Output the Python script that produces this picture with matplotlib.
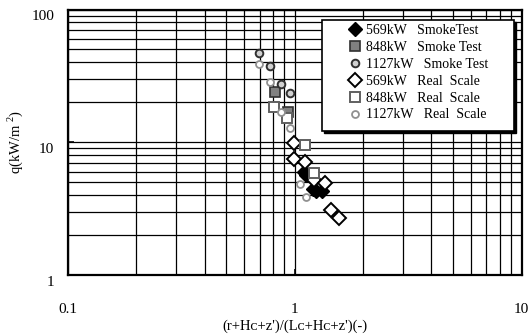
import matplotlib
matplotlib.use("Agg")
import matplotlib.pyplot as plt
import matplotlib.transforms as mtransforms
from matplotlib.patches import Rectangle
from matplotlib.ticker import LogLocator, NullFormatter, FixedLocator, FixedFormatter

plt.rcParams['font.family'] = ['Liberation Serif', 'DejaVu Serif']
plt.rcParams['mathtext.fontset'] = 'custom'
plt.rcParams['mathtext.rm'] = 'Liberation Serif'

# ---- data ----
smoke569_x = [1.098, 1.116, 1.203, 1.244, 1.318]
smoke569_y = [5.97, 5.64, 4.47, 4.29, 4.29]
smoke848_x = [0.820, 0.933]
smoke848_y = [24.0, 16.9]
smoke1127_x = [0.699, 0.780, 0.874, 0.955]
smoke1127_y = [47.2, 37.5, 27.4, 23.7]
real569_x = [0.995, 0.995, 1.107, 1.215, 1.353, 1.438, 1.564]
real569_y = [9.88, 7.44, 7.13, 5.23, 4.93, 3.09, 2.67]
real848_x = [0.814, 0.927, 1.105, 1.215]
real848_y = [18.3, 15.1, 9.49, 5.86]
real1127_x = [0.695, 0.777, 0.872, 0.955, 1.052, 1.124]
real1127_y = [38.6, 28.2, 16.9, 12.7, 4.82, 3.88]

labels = ["569kW   SmokeTest", "848kW   Smoke Test", "1127kW   Smoke Test",
          "569kW   Real  Scale", "848kW   Real  Scale", "1127kW   Real  Scale"]
xticks = [0.1, 1, 10]
xticklabels = ["0.1", "1", "10"]
yticks = [1, 10, 100]
yticklabels = ["1", "10", "100"]

W, H = 530, 336
fig = plt.figure(figsize=(W / 100, H / 100), dpi=100)
L, R, T, B = 68, 521.5, 9.5, 275
ax = fig.add_axes([L / W, (H - B) / H, (R - L) / W, (B - T) / H])
ax.set_xscale('log')
ax.set_yscale('log')
ax.set_xlim(0.1, 10)
ax.set_ylim(1, 100)

ax.xaxis.set_minor_locator(LogLocator(base=10, subs=range(2, 10)))
ax.yaxis.set_minor_locator(LogLocator(base=10, subs=range(2, 10)))
ax.xaxis.set_minor_formatter(NullFormatter())
ax.yaxis.set_minor_formatter(NullFormatter())
ax.xaxis.set_major_locator(FixedLocator(xticks))
ax.xaxis.set_major_formatter(FixedFormatter(xticklabels))
ax.yaxis.set_major_locator(FixedLocator(yticks))
ax.yaxis.set_major_formatter(FixedFormatter(yticklabels))

ax.grid(True, which='both', color='black', linewidth=0.9)
ax.set_axisbelow(True)
ax.tick_params(which='major', direction='in', length=4, width=1.2, labelsize=11)
ax.tick_params(axis='x', which='major', pad=20)
ax.tick_params(axis='y', which='major', pad=10)
ax.tick_params(which='minor', length=0)
for s in ax.spines.values():
    s.set_linewidth(1.6)

# shift y tick labels down a bit
off = mtransforms.ScaledTranslation(0, -6 / 100, fig.dpi_scale_trans)
for lab in ax.get_yticklabels():
    lab.set_transform(lab.get_transform() + off)

ms_d = 7
h1, = ax.plot(smoke569_x, smoke569_y, 'D', ms=ms_d, mfc='black', mec='black', mew=1.0, ls='none')
h2, = ax.plot(smoke848_x, smoke848_y, 's', ms=7, mfc='#808080', mec='#303030', mew=1.2, ls='none')
h3, = ax.plot(smoke1127_x, smoke1127_y, 'o', ms=5.5, mfc='#d0d0d0', mec='#303030', mew=1.4, ls='none')
h4, = ax.plot(real569_x, real569_y, 'D', ms=ms_d, mfc='white', mec='black', mew=1.4, ls='none')
h5, = ax.plot(real848_x, real848_y, 's', ms=7.5, mfc='white', mec='#606060', mew=1.4, ls='none')
h6, = ax.plot(real1127_x, real1127_y, 'o', ms=5, mfc='white', mec='#909090', mew=1.3, ls='none')

# legend box
bx0, bx1, by0, by1 = 322, 514, 20, 131
def ax_frac(px, py):
    return (px - L) / (R - L), (B - py) / (B - T)
fx0, fy1 = ax_frac(bx0, by1)
fx1, fy0 = ax_frac(bx1, by0)
ax.add_patch(Rectangle((fx0 + 0.004, fy1 - 0.008), fx1 - fx0, fy0 - fy1, transform=ax.transAxes,
                       facecolor='black', edgecolor='black', zorder=4))
ax.add_patch(Rectangle((fx0, fy1), fx1 - fx0, fy0 - fy1, transform=ax.transAxes,
                       facecolor='white', edgecolor='black', linewidth=1.2, zorder=5))
ax_l = ax_frac(348, 24)
leg = ax.legend([h1, h2, h3, h4, h5, h6], labels, loc='upper left',
                bbox_to_anchor=ax_l, frameon=False, fontsize=10,
                handlelength=1.0, handletextpad=0.3, labelspacing=0.28,
                borderpad=0, borderaxespad=0)
leg.set_zorder(6)

fig.text(295 / W, 1 - 326 / H, "(r+H\u1d04+z')/(L\u1d04+H\u1d04+z')(-)", ha='center', va='center', fontsize=10.5)
fig.text(15 / W, 1 - 142 / H, "q(kW/m$^{\\ 2}$)", ha='center', va='center', rotation=90, fontsize=10.5)

fig.savefig("out.png", dpi=100)
